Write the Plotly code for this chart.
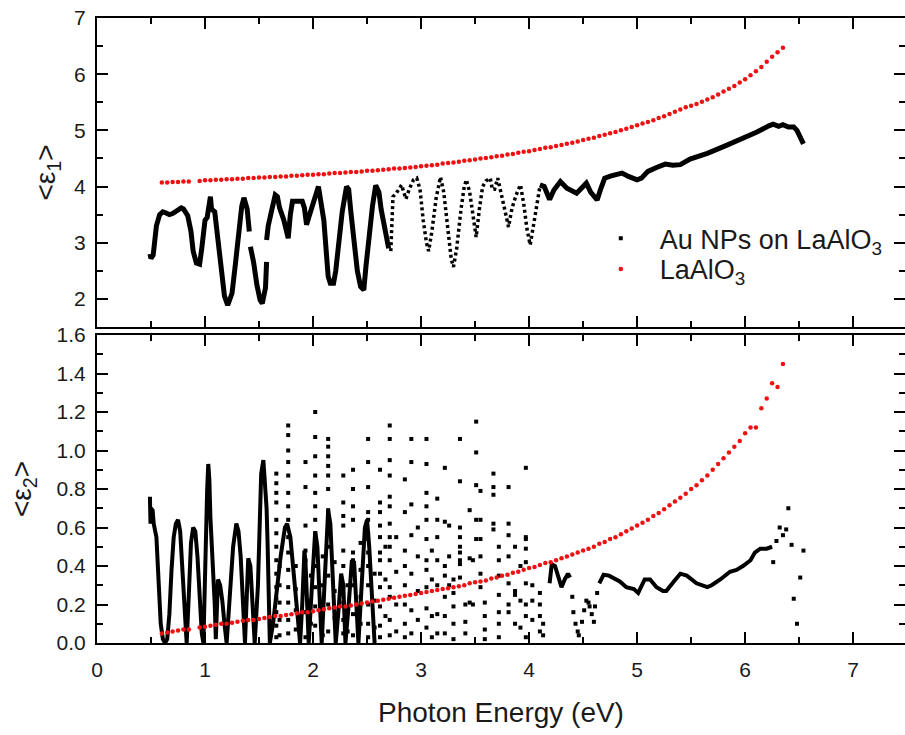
import plotly.graph_objects as go

# ---------------- data ----------------
# LaAlO3 reference (red)
red_x = [0.60, 0.65, 0.70, 0.75, 0.80, 0.85,
         0.95, 1.00, 1.05, 1.10, 1.15, 1.20, 1.25, 1.30, 1.35, 1.40, 1.45, 1.50, 1.55, 1.60, 1.65, 1.70, 1.75, 1.80, 1.85, 1.90, 1.95,
         2.00, 2.05, 2.10, 2.15, 2.20, 2.25, 2.30, 2.35, 2.40, 2.45, 2.50, 2.55, 2.60, 2.65, 2.70, 2.75, 2.80, 2.85, 2.90, 2.95,
         3.00, 3.05, 3.10, 3.15, 3.20, 3.25, 3.30, 3.35, 3.40, 3.45, 3.50, 3.55, 3.60, 3.65, 3.70, 3.75, 3.80, 3.85, 3.90, 3.95,
         4.00, 4.05, 4.10, 4.15, 4.20, 4.25, 4.30, 4.35, 4.40, 4.45, 4.50, 4.55, 4.60, 4.65, 4.70, 4.75, 4.80, 4.85, 4.90, 4.95,
         5.00, 5.05, 5.10, 5.15, 5.20, 5.25, 5.30, 5.35, 5.40, 5.45, 5.50, 5.55, 5.60, 5.65, 5.70, 5.75, 5.80, 5.85, 5.90, 5.95,
         6.00, 6.05, 6.10, 6.15, 6.20, 6.25, 6.30, 6.35]
red_e1 = [4.07, 4.07, 4.08, 4.08, 4.09, 4.09,
          4.10, 4.11, 4.11, 4.12, 4.12, 4.13, 4.13, 4.14, 4.14, 4.15, 4.15, 4.16, 4.16, 4.17, 4.17, 4.18, 4.18, 4.19, 4.19, 4.20, 4.21,
          4.21, 4.22, 4.22, 4.23, 4.24, 4.24, 4.25, 4.26, 4.26, 4.27, 4.28, 4.28, 4.29, 4.30, 4.31, 4.32, 4.32, 4.33, 4.34, 4.35,
          4.36, 4.37, 4.38, 4.39, 4.41, 4.42, 4.43, 4.44, 4.46, 4.47, 4.48, 4.50, 4.51, 4.52, 4.54, 4.55, 4.57, 4.58, 4.60, 4.62,
          4.63, 4.65, 4.67, 4.69, 4.70, 4.72, 4.74, 4.76, 4.78, 4.80, 4.83, 4.85, 4.87, 4.90, 4.92, 4.95, 4.97, 5.00, 5.03, 5.06,
          5.09, 5.12, 5.15, 5.18, 5.22, 5.25, 5.29, 5.33, 5.37, 5.41, 5.44, 5.47, 5.51, 5.55, 5.59, 5.64, 5.69, 5.74, 5.79, 5.85,
          5.91, 5.98, 6.05, 6.13, 6.22, 6.31, 6.39, 6.47]
red_e2 = [0.050, 0.055, 0.060, 0.065, 0.070, 0.070,
          0.080, 0.085, 0.090, 0.095, 0.100, 0.100, 0.105, 0.110, 0.115, 0.120, 0.120, 0.125, 0.130, 0.135, 0.140, 0.140, 0.145, 0.150, 0.155, 0.160, 0.160,
          0.165, 0.170, 0.175, 0.180, 0.185, 0.190, 0.190, 0.195, 0.200, 0.205, 0.210, 0.215, 0.220, 0.225, 0.230, 0.235, 0.240, 0.245, 0.250, 0.255,
          0.260, 0.265, 0.270, 0.275, 0.280, 0.285, 0.290, 0.295, 0.300, 0.310, 0.315, 0.320, 0.325, 0.335, 0.340, 0.350, 0.355, 0.365, 0.370, 0.380,
          0.390, 0.395, 0.405, 0.415, 0.420, 0.430, 0.440, 0.450, 0.460, 0.470, 0.480, 0.490, 0.500, 0.515, 0.525, 0.540, 0.550, 0.565, 0.580, 0.595,
          0.610, 0.625, 0.640, 0.660, 0.675, 0.695, 0.715, 0.735, 0.755, 0.775, 0.800, 0.820, 0.845, 0.870, 0.900, 0.930, 0.960, 0.990, 1.020, 1.050,
          1.090, 1.120, 1.120, 1.220, 1.270, 1.350, 1.330, 1.450]

# Au NPs on LaAlO3 (black) - <e1>, dense parts
au_e1_solid_x = [0.49, 0.50, 0.51, 0.52, 0.53, 0.55, 0.58, 0.61, 0.64, 0.67, 0.70, 0.73, 0.76, 0.78, 0.80, 0.82, 0.84, 0.87,
                 0.89, 0.92, 0.95, 0.97, 1.00, 1.02, 1.05, 1.06, 1.09, 1.12, 1.15, 1.18, 1.21, 1.25, 1.28, 1.31, 1.34, 1.36,
                 1.39, 1.41, None,
                 1.42, 1.45, 1.48, 1.51, 1.53, 1.56, 1.57, None,
                 1.57, 1.585, 1.62, 1.65, 1.67, 1.69, 1.73, 1.75, 1.77, 1.79, 1.81, 1.85, 1.90, 1.92, 1.94, 1.96, 1.99,
                 2.02, 2.05, 2.07, 2.10, 2.12, 2.14, 2.16, 2.19, 2.21, 2.24, 2.27, 2.31, 2.33, 2.35, 2.38, 2.41, 2.44,
                 2.47, 2.49, 2.52, 2.55, 2.58, 2.61, 2.63, 2.66, 2.68, 2.70, None,
                 4.10, 4.14, 4.19, 4.23, 4.29, 4.35, 4.44, 4.48, 4.53, 4.57, 4.63, 4.66, 4.70, 4.76, 4.86, 4.92, 5.00,
                 5.04, 5.10, 5.18, 5.26, 5.33, 5.40, 5.49, 5.65, 5.80, 5.95, 6.11, 6.22, 6.26, 6.31, 6.35, 6.40, 6.45,
                 6.48, 6.50, 6.52, 6.54]
au_e1_solid_y = [2.80, 2.72, 2.75, 2.78, 2.95, 3.30, 3.50, 3.55, 3.53, 3.50, 3.52, 3.55, 3.58, 3.62, 3.60, 3.55, 3.48, 3.20,
                 2.85, 2.64, 2.62, 2.90, 3.40, 3.45, 3.82, 3.60, 3.55, 3.05, 2.45, 2.05, 1.89, 2.10, 2.60, 3.20, 3.65, 3.80,
                 3.60, 3.20, None,
                 2.93, 2.65, 2.25, 1.98, 1.92, 2.20, 2.66, None,
                 3.05, 3.30, 3.60, 3.85, 3.82, 3.62, 3.40, 3.20, 3.08, 3.50, 3.74, 3.74, 3.74, 3.62, 3.32, 3.45, 3.62,
                 3.78, 4.00, 3.76, 3.40, 2.90, 2.40, 2.28, 2.28, 2.50, 3.05, 3.55, 4.00, 3.95, 3.55, 2.95, 2.50, 2.22,
                 2.16, 2.58, 3.15, 3.65, 4.02, 3.90, 3.60, 3.30, 3.05, 2.90, None,
                 4.03, 4.00, 3.77, 3.94, 4.09, 3.97, 3.88, 3.97, 4.06, 3.90, 3.76, 3.94, 4.15, 4.19, 4.24, 4.18, 4.12,
                 4.15, 4.27, 4.34, 4.40, 4.38, 4.39, 4.49, 4.59, 4.71, 4.83, 4.97, 5.08, 5.11, 5.07, 5.10, 5.06, 5.06,
                 5.00, 4.92, 4.83, 4.76]
# <e1>, sparse (dotted) part
au_e1_dot_x = [2.72, 2.73, 2.74, 2.77, 2.80, 2.82, 2.84, 2.86, 2.89, 2.93, 2.96, 2.99, 3.02, 3.05, 3.07, 3.10, 3.14, 3.18,
               3.21, 3.25, 3.28, 3.30, 3.33, 3.37, 3.40, 3.42, 3.45, 3.48, 3.51, 3.54, 3.57, 3.60, 3.64, 3.66, 3.68, 3.71,
               3.74, 3.78, 3.81, 3.84, 3.88, 3.92, 3.95, 3.98, 4.01, 4.04, 4.07, 4.10]
au_e1_dot_y = [2.85, 3.60, 3.82, 3.88, 3.97, 4.03, 3.90, 3.78, 3.95, 4.12, 4.15, 3.95, 3.40, 3.00, 2.85, 3.20, 3.80, 4.17,
               3.90, 3.20, 2.70, 2.57, 2.90, 3.60, 4.00, 4.12, 3.90, 3.50, 3.10, 3.60, 4.00, 4.10, 4.15, 3.95, 3.95, 4.15,
               3.90, 3.50, 3.28, 3.60, 3.85, 4.03, 3.70, 3.25, 2.96, 3.30, 3.70, 4.00]

# <e2>, dense line parts
au_e2_line_x = [0.49, 0.495, 0.50, 0.515, 0.525, 0.55, 0.57, 0.59, 0.61, 0.63, 0.65, 0.67, 0.69, 0.71, 0.73, 0.75, 0.77,
                0.79, 0.81, 0.83, 0.85, 0.87, 0.89, 0.91, 0.93, 0.95, 0.97, 0.985, 1.00, 1.02, 1.03, 1.04, 1.05, 1.07,
                1.09, 1.10, 1.12, 1.14, 1.16, 1.18, 1.20, 1.23, 1.26, 1.29, 1.31, 1.33, 1.35, 1.37, 1.40, 1.42, 1.44,
                1.46, 1.49, 1.51, 1.52, 1.54, 1.55, 1.57, 1.58, 1.59, 1.60,
                1.63, 1.66, 1.70, 1.74, 1.76, 1.79, 1.82, 1.86, 1.88, 1.90, 1.92, 1.93, 1.95, 1.96, 1.99, 2.02, 2.04,
                2.06, 2.08, 2.11, 2.14, 2.16, 2.19, 2.21, 2.24, 2.26, 2.28, 2.30, 2.33, 2.36, 2.38, 2.40, 2.42, 2.45,
                2.48, 2.50, 2.52, 2.55, 2.57, None,
                4.19, 4.21, 4.24, 4.27, 4.30, 4.33, 4.36, 4.38, None,
                4.65, 4.69, 4.74, 4.84, 4.90, 4.97, 5.01, 5.04, 5.07, 5.12, 5.18, 5.24, 5.27, 5.34, 5.40, 5.46, 5.55,
                5.65, 5.69, 5.77, 5.86, 5.92, 5.98, 6.05, 6.09, 6.14, 6.20, 6.25]
au_e2_line_y = [0.76, 0.62, 0.70, 0.69, 0.62, 0.55, 0.30, 0.10, 0.02, 0.00, 0.02, 0.15, 0.38, 0.55, 0.62, 0.64, 0.58,
                0.40, 0.15, 0.00, 0.25, 0.52, 0.60, 0.58, 0.45, 0.20, 0.05, 0.00, 0.45, 0.80, 0.93, 0.85, 0.65, 0.45,
                0.20, 0.02, 0.33, 0.30, 0.22, 0.10, 0.00, 0.25, 0.50, 0.62, 0.58, 0.45, 0.20, 0.00, 0.44, 0.40, 0.20,
                0.00, 0.30, 0.60, 0.88, 0.95, 0.88, 0.70, 0.50, 0.30, 0.00,
                0.10, 0.25, 0.45, 0.60, 0.62, 0.55, 0.35, 0.10, 0.00, 0.20, 0.48, 0.42, 0.15, 0.00, 0.30, 0.58, 0.50,
                0.25, 0.00, 0.35, 0.69, 0.62, 0.30, 0.00, 0.20, 0.36, 0.30, 0.00, 0.20, 0.43, 0.42, 0.20, 0.00, 0.30,
                0.60, 0.64, 0.50, 0.20, 0.00, None,
                0.31, 0.41, 0.40, 0.35, 0.29, 0.33, 0.36, 0.34, None,
                0.31, 0.355, 0.35, 0.32, 0.29, 0.28, 0.26, 0.29, 0.33, 0.33, 0.29, 0.27, 0.27, 0.32, 0.36, 0.35, 0.31,
                0.29, 0.30, 0.33, 0.37, 0.38, 0.40, 0.43, 0.47, 0.49, 0.49, 0.50]

# <e2>, scattered points: columns of points (energy, list of values)
au_e2_col_x = [1.66, 1.69, 1.77, 1.84, 1.93, 1.98, 2.02, 2.09, 2.14, 2.20, 2.28, 2.32, 2.37, 2.44, 2.51, 2.57, 2.62,
               2.67, 2.71, 2.77, 2.85, 2.91, 2.97, 3.05, 3.10, 3.15, 3.22, 3.26, 3.30, 3.36, 3.41, 3.45, 3.48, 3.51,
               3.55, 3.59, 3.67, 3.72, 3.81, 3.87, 3.92, 3.97, 4.03, 4.10, 4.13]
au_e2_col_y = [
    [0.88, 0.83, 0.78, 0.73, 0.64, 0.57, 0.50, 0.43, 0.36, 0.29, 0.23, 0.16, 0.09, 0.03],
    [0.40, 0.30, 0.21, 0.12, 0.04],
    [1.13, 1.08, 1.00, 0.94, 0.87, 0.78, 0.71, 0.64, 0.55, 0.47, 0.38, 0.29, 0.21, 0.12, 0.05],
    [0.40, 0.28, 0.17, 0.07],
    [0.94, 0.81, 0.61, 0.48, 0.43, 0.29, 0.16, 0.03],
    [0.35, 0.22, 0.10],
    [1.20, 1.07, 0.97, 0.87, 0.78, 0.71, 0.64, 0.57, 0.52, 0.47, 0.40, 0.29, 0.19, 0.09],
    [0.45, 0.30, 0.15, 0.04],
    [1.06, 1.02, 0.97, 0.92, 0.87, 0.80, 0.69, 0.64, 0.50, 0.35, 0.20, 0.06],
    [0.42, 0.27, 0.13],
    [0.87, 0.73, 0.66, 0.61, 0.48, 0.40, 0.29, 0.21, 0.12, 0.05],
    [0.30, 0.17, 0.06],
    [0.90, 0.80, 0.71, 0.64, 0.47, 0.43, 0.30, 0.15, 0.04],
    [0.52, 0.38, 0.24, 0.10],
    [1.06, 0.94, 0.81, 0.68, 0.64, 0.57, 0.54, 0.47, 0.40, 0.30, 0.20, 0.10, 0.03],
    [0.36, 0.22, 0.08],
    [0.90, 0.73, 0.68, 0.61, 0.55, 0.47, 0.43, 0.36, 0.29, 0.19, 0.09, 0.03],
    [0.50, 0.33, 0.14],
    [1.13, 1.06, 0.95, 0.87, 0.76, 0.71, 0.62, 0.55, 0.50, 0.43, 0.29, 0.24, 0.12, 0.04],
    [0.55, 0.37, 0.20, 0.06],
    [0.85, 0.68, 0.48, 0.40, 0.30, 0.20, 0.10, 0.03],
    [1.06, 0.94, 0.72, 0.56, 0.36, 0.17, 0.05],
    [0.60, 0.45, 0.27, 0.12],
    [1.06, 0.93, 0.78, 0.71, 0.64, 0.54, 0.43, 0.38, 0.29, 0.18, 0.08],
    [0.48, 0.33, 0.14, 0.03],
    [0.75, 0.64, 0.55, 0.43, 0.30, 0.15, 0.05],
    [0.91, 0.63, 0.40, 0.35, 0.24, 0.14, 0.05],
    [0.61, 0.45, 0.30],
    [0.33, 0.26, 0.19, 0.10, 0.02],
    [1.06, 0.84, 0.60, 0.55, 0.50, 0.47, 0.43, 0.41, 0.34],
    [0.20, 0.11, 0.05],
    [0.69, 0.44, 0.21],
    [0.43, 0.20],
    [1.15, 0.99, 0.82, 0.64, 0.54],
    [0.79, 0.64, 0.54, 0.45, 0.36, 0.29],
    [0.21, 0.14, 0.07, 0.02],
    [0.88, 0.81, 0.77, 0.62, 0.59],
    [0.50, 0.43, 0.35, 0.25, 0.16, 0.10, 0.03],
    [0.81, 0.62, 0.56, 0.45, 0.31, 0.20, 0.16],
    [0.50, 0.27, 0.25, 0.10],
    [0.40, 0.22, 0.08],
    [0.91, 0.55, 0.54, 0.49, 0.42, 0.31, 0.20, 0.14, 0.03],
    [0.30, 0.22, 0.12],
    [0.26, 0.20, 0.14, 0.06],
    [0.10, 0.04],
]
# <e2>, loose single points
au_e2_pts_x = [4.40, 4.41, 4.43, 4.45, 4.46, 4.49, 4.51, 4.53, 4.55, 4.56, 4.58, 4.60, 4.61, 4.63,
               6.26, 6.29, 6.32, 6.35, 6.38, 6.40, 6.43, 6.45, 6.48, 6.51, 6.54]
au_e2_pts_y = [0.24, 0.16, 0.10, 0.06, 0.04, 0.11, 0.17, 0.22, 0.21, 0.19, 0.15, 0.11, 0.19, 0.26,
               0.42, 0.53, 0.60, 0.56, 0.59, 0.70, 0.51, 0.23, 0.10, 0.34, 0.48]

series_names = ["Au NPs on LaAlO<sub>3</sub>", "LaAlO<sub>3</sub>"]

# ---------------- figure ----------------
FONT = "Liberation Sans, Arial, Helvetica, sans-serif"
BLACK = "#000000"
TXT = "#1a1a1a"
RED = "#ee1111"

sc_x, sc_y = [], []
for cx, ys in zip(au_e2_col_x, au_e2_col_y):
    for v in ys:
        sc_x.append(cx)
        sc_y.append(v)
sc_x += au_e2_pts_x
sc_y += au_e2_pts_y

fig = go.Figure()

# top panel black
fig.add_trace(go.Scatter(x=au_e1_solid_x, y=au_e1_solid_y, mode="lines",
                         line=dict(color=BLACK, width=5), showlegend=False,
                         xaxis="x", yaxis="y", connectgaps=False))
fig.add_trace(go.Scatter(x=au_e1_dot_x, y=au_e1_dot_y, mode="lines",
                         line=dict(color=BLACK, width=3.5, dash="3px,3px"), showlegend=False,
                         xaxis="x", yaxis="y"))
# bottom panel black
fig.add_trace(go.Scatter(x=au_e2_line_x, y=au_e2_line_y, mode="lines",
                         line=dict(color=BLACK, width=4), showlegend=False,
                         xaxis="x2", yaxis="y2", connectgaps=False))
fig.add_trace(go.Scatter(x=sc_x, y=sc_y, mode="markers",
                         marker=dict(color=BLACK, size=4, symbol="square"),
                         name=series_names[0], showlegend=True, legend="legend",
                         xaxis="x2", yaxis="y2"))
# red
fig.add_trace(go.Scatter(x=red_x, y=red_e1, mode="markers",
                         marker=dict(color=RED, size=4.5), name=series_names[1],
                         showlegend=True, legend="legend2", xaxis="x", yaxis="y"))
fig.add_trace(go.Scatter(x=red_x, y=red_e2, mode="markers",
                         marker=dict(color=RED, size=4.5), showlegend=False,
                         xaxis="x2", yaxis="y2"))

axis_common = dict(showline=True, linecolor=BLACK, linewidth=2, mirror="allticks",
                   ticks="inside", ticklen=11, tickwidth=1.6, tickcolor=BLACK,
                   showgrid=False, zeroline=False, automargin=False,
                   ticklabeloverflow="allow",
                   tickfont=dict(family=FONT, size=21, color=TXT))
minor_x = dict(ticks="inside", ticklen=6, tickwidth=1.6, dtick=0.5, tickcolor=BLACK)

legend_common = dict(xanchor="left", yanchor="top", bgcolor="rgba(0,0,0,0)",
                     font=dict(family=FONT, size=27, color=TXT), itemwidth=68)

# page body margin removed by post_script, so the figure sits at the window origin
fig.update_layout(
    width=905, height=735,
    margin=dict(l=97, r=0, t=18, b=92),
    paper_bgcolor="white", plot_bgcolor="white",
    font=dict(family=FONT, color=TXT),
    xaxis=dict(domain=[0, 1], range=[0, 7.48], dtick=1, tick0=0, anchor="y",
               showticklabels=False, minor=minor_x, **axis_common),
    xaxis2=dict(domain=[0, 1], range=[0, 7.48], dtick=1, tick0=0, anchor="y2", matches="x",
                minor=minor_x, ticklabelstandoff=7,
                title=dict(text="Photon Energy (eV)", font=dict(family=FONT, size=28, color=TXT),
                           standoff=22),
                **axis_common),
    yaxis=dict(domain=[0.5056, 1], range=[1.5, 7], dtick=1, tick0=0, anchor="x",
               minor=dict(ticks="inside", ticklen=6, tickwidth=1.6, dtick=0.5, tickcolor=BLACK),
               ticklabelstandoff=5,
               title=dict(text="&lt;ε<sub>1</sub>&gt;", font=dict(family=FONT, size=28, color=TXT),
                          standoff=10),
               **axis_common),
    yaxis2=dict(domain=[0, 0.4928], range=[0, 1.6], dtick=0.2, tick0=0, tickformat=".1f", anchor="x2",
                minor=dict(ticks="inside", ticklen=6, tickwidth=1.6, dtick=0.1, tickcolor=BLACK),
                ticklabelstandoff=5,
                title=dict(text="&lt;ε<sub>2</sub>&gt;", font=dict(family=FONT, size=28, color=TXT),
                           standoff=17),
                **axis_common),
    legend=dict(x=0.600, y=0.686, **legend_common),
    legend2=dict(x=0.600, y=0.637, **legend_common),
)

fig.write_html("out.html",
               config={"displayModeBar": False},
               post_script="document.body.style.margin='0';document.body.style.overflow='hidden';")
